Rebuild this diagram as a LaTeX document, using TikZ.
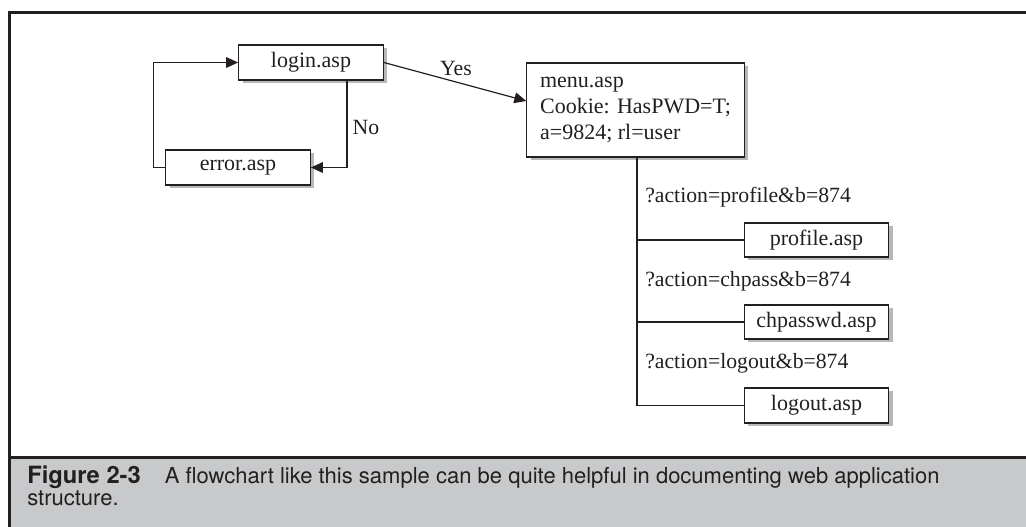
\documentclass[tikz,border=0pt]{standalone}
\usepackage{fontspec}
\setmainfont{Liberation Serif}
\newfontfamily\capfont{TeX Gyre Heros}
\newcommand\tightlines{\lineskiplimit=-20pt\relax\lineskip=0pt\relax}
\usetikzlibrary{arrows.meta,shadows,calc}
\definecolor{ink}{HTML}{231F20}
\definecolor{capgray}{HTML}{C8C9CB}
\definecolor{shadowgray}{HTML}{B8B8B8}
\tikzset{
  pagebox/.style={draw=ink, line width=0.8pt, fill=white, text=ink, inner sep=0pt,
    minimum height=26.25pt, minimum width=108.5pt,
    font=\fontsize{16.5}{19.5}\selectfont,
    drop shadow={shadow xshift=3pt, shadow yshift=-2.4pt, fill=shadowgray, opacity=1}},
  menubox/.style={pagebox, minimum height=70.5pt, minimum width=163pt, align=left},
  link/.style={draw=ink, line width=0.9pt},
  arr/.style={link, -{Triangle[length=9pt,width=8pt]}},
  lbl/.style={text=ink, inner sep=0pt, font=\fontsize{16.3}{19.5}\selectfont},
  frameline/.style={draw=ink, line width=2.2pt},
  captext/.style={text=ink, inner sep=0pt, align=left,
    font=\capfont\fontsize{16.5}{16.5}\selectfont\tightlines}
}
\begin{document}
\begin{tikzpicture}[x=0.75pt,y=-0.75pt]
\useasboundingbox (0,0) rectangle (1026,527);
% caption band
\fill[capgray] (10,459) rectangle (1026,527);
\draw[frameline] (1026,12.5) -- (9.5,12.5) -- (9.5,527);
\draw[draw=ink, line width=2.3pt] (9.5,457.5) -- (1026,457.5);
\node[captext, anchor=base west] (cap) at (27,506)
  {{\bfseries\fontsize{17.8}{16.5}\selectfont Figure 2-3}\hspace{18pt}A flowchart like this sample can be quite helpful in documenting web application\\structure.};

% boxes
\node[pagebox] (login) at (311,62.5) {login.asp};
\node[pagebox] (error) at (238,167.5) {error.asp};
\node[menubox] (menu) at (635.5,110) {menu.asp\\Cookie: HasPWD=T;\\a=9824; rl=user};
\node[pagebox, minimum height=25.5pt] (profile) at (816.5,240) {profile.asp};
\node[pagebox, minimum height=25.5pt] (chpass) at (816.5,322) {chpasswd.asp};
\node[pagebox] (logout) at (816.5,405.5) {logout.asp};

% connectors
\draw[arr] (error.west) -- ++(-12,0) |- (login.west);
\draw[arr] ([xshift=27pt]login.south) |- (error.east);
\draw[arr] (login.east) -- ([yshift=6.75pt]menu.west);
\node[lbl] (yes) at (456,68) {Yes};
\node[lbl] (no) at (366,127) {No};

\coordinate (trunk) at ([xshift=1.1pt]menu.south);
\draw[link] (trunk) |- (logout.west);
\draw[link] (trunk |- profile.west) -- (profile.west);
\draw[link] (trunk |- chpass.west) -- (chpass.west);

\node[lbl, anchor=base west] (a1) at (645,203) {?action=profile\&b=874};
\node[lbl, anchor=base west] (a2) at (645,287) {?action=chpass\&b=874};
\node[lbl, anchor=base west] (a3) at (645,369) {?action=logout\&b=874};
\end{tikzpicture}
\end{document}
